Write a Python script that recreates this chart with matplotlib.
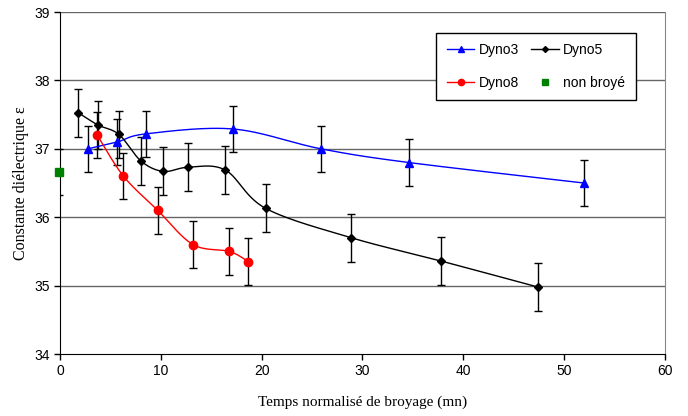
import numpy as np
import matplotlib.pyplot as plt

# valeurs
dyno3_t = [2.75, 5.67, 8.56, 17.2, 25.9, 34.6, 52.0]
dyno3_e = [37.0, 37.1, 37.22, 37.29, 37.0, 36.8, 36.5]
dyno3_err = [0.34, 0.34, 0.34, 0.34, 0.34, 0.34, 0.34]

dyno5_t = [1.8, 3.75, 5.85, 8.05, 10.25, 12.7, 16.4, 20.4, 28.9, 37.8, 47.4]
dyno5_e = [37.53, 37.35, 37.21, 36.82, 36.67, 36.73, 36.69, 36.13, 35.7, 35.36, 34.98]
dyno5_err = [0.35] * 11

dyno8_t = [3.7, 6.3, 9.7, 13.2, 16.8, 18.7]
dyno8_e = [37.2, 36.6, 36.1, 35.6, 35.5, 35.35]
dyno8_err = [0.34] * 6

nb_t = [-0.1]
nb_e = [36.66]
nb_err = [0.34]


def smooth(x, y, n=30):
    """Lissage type Excel (Bezier / Catmull-Rom)."""
    x = np.asarray(x, float)
    y = np.asarray(y, float)
    px, py = [], []
    for i in range(len(x) - 1):
        x0, y0 = (x[i - 1], y[i - 1]) if i > 0 else (x[i], y[i])
        x3, y3 = (x[i + 2], y[i + 2]) if i + 2 < len(x) else (x[i + 1], y[i + 1])
        c1x = x[i] + (x[i + 1] - x0) / 6
        c1y = y[i] + (y[i + 1] - y0) / 6
        c2x = x[i + 1] - (x3 - x[i]) / 6
        c2y = y[i + 1] - (y3 - y[i]) / 6
        t = np.linspace(0, 1, n)
        a, b, c, d = (1 - t) ** 3, 3 * t * (1 - t) ** 2, 3 * t ** 2 * (1 - t), t ** 3
        px.extend(a * x[i] + b * c1x + c * c2x + d * x[i + 1])
        py.extend(a * y[i] + b * c1y + c * c2y + d * y[i + 1])
    return px, py


plt.rcParams['font.family'] = 'Liberation Sans'
fig = plt.figure(figsize=(6.88, 4.16), dpi=100)
ax = fig.add_axes([0.0872, 0.149, 0.879, 0.822])

ax.set_xlim(0, 60)
ax.set_ylim(34, 39)
ax.set_xticks(range(0, 61, 10))
ax.set_yticks(range(34, 40))
for yv in range(35, 40):
    ax.axhline(yv, color='#666666', lw=1, zorder=1)
ax.spines['top'].set_visible(False)
ax.spines['right'].set_color('#888888')
ax.tick_params(labelsize=10, direction='out', length=4, width=1)

err_kw = dict(fmt='none', ecolor='black', elinewidth=1, capsize=3, capthick=1, zorder=3)

for t, e, err, col, mk, ms, lab in [
        (dyno3_t, dyno3_e, dyno3_err, 'blue', '^', 6, 'Dyno3'),
        (dyno5_t, dyno5_e, dyno5_err, 'black', 'D', 4.5, 'Dyno5'),
        (dyno8_t, dyno8_e, dyno8_err, 'red', 'o', 6, 'Dyno8')]:
    ax.errorbar(t, e, yerr=err, **err_kw)
    sx, sy = smooth(t, e)
    ax.plot(sx, sy, color=col, lw=1, zorder=4)
    ax.plot(t, e, ls='none', marker=mk, ms=ms, color=col, zorder=5)
    ax.plot([], [], color=col, lw=1, marker=mk, ms=ms - 1.5, label=lab)

ax.errorbar(nb_t, nb_e, yerr=nb_err, **err_kw)
ax.plot(nb_t, nb_e, ls='none', marker='s', ms=6, color='green', zorder=6, clip_on=False)
ax.plot([], [], ls='none', marker='s', ms=5, color='green', label='non broyé')

h, l = ax.get_legend_handles_labels()
order = [0, 2, 1, 3]
leg = ax.legend([h[i] for i in order], [l[i] for i in order], ncol=2,
                loc='upper right', bbox_to_anchor=(0.952, 0.94), frameon=True,
                fancybox=False, edgecolor='black', framealpha=1, fontsize=10,
                handlelength=2.0, columnspacing=0.9, labelspacing=1.35,
                borderpad=0.75, handletextpad=0.3, borderaxespad=0)
leg.get_frame().set_linewidth(1)

ax.set_xlabel('Temps normalisé de broyage (mn)', family='Liberation Serif', fontsize=11,
              labelpad=12)
ax.set_ylabel('Constante diélectrique ε', family='Liberation Serif', fontsize=11.5)

fig.savefig('out.png', dpi=100)
